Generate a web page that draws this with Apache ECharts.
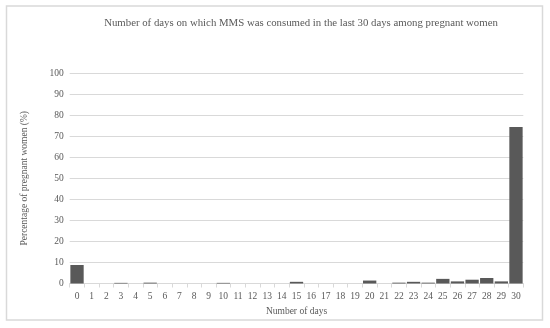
<!DOCTYPE html>
<html><head><meta charset="utf-8">
<script src="https://cdn.jsdelivr.net/npm/echarts@6/dist/echarts.min.js"></script>
<style>html,body{margin:0;padding:0;background:#fff}#c{width:550px;height:328px}</style>
</head><body><div id="c"></div>
<script>
const days = ['0','1','2','3','4','5','6','7','8','9','10','11','12','13','14','15','16','17','18','19','20','21','22','23','24','25','26','27','28','29','30'];
const percentages = [8.8,0,0,0.3,0,0.4,0,0,0,0,0.3,0,0,0,0,0.8,0,0,0,0,1.4,0,0.4,0.8,0.4,2.2,1.0,1.8,2.6,1.0,74.4];
const yTicks = [0,10,20,30,40,50,60,70,80,90,100];
const titleText = 'Number of days on which MMS was consumed in the last 30 days among pregnant women';
const xName = 'Number of days';
const yName = 'Percentage of pregnant women (%)';

const font = '"Liberation Serif","Times New Roman",serif';
const chart = echarts.init(document.getElementById('c'), null, {renderer:'canvas'});
chart.setOption({
  animation:false,
  backgroundColor:'#fff',
  graphic:[{type:'rect',shape:{x:6.5,y:6,width:536,height:314},style:{fill:'none',stroke:'#d9d9d9',lineWidth:1.5},silent:true}],
  title:{text:titleText,left:296,top:13,textAlign:'center',textStyle:{fontFamily:font,fontSize:10.8,fontWeight:'normal',color:'#595959'}},
  grid:{left:69.7,right:26.7,top:73,bottom:44.5},
  xAxis:{type:'category',data:days,name:xName,nameLocation:'middle',nameGap:21,
    nameTextStyle:{fontFamily:font,fontSize:9.5,color:'#595959'},
    axisLine:{lineStyle:{color:'#d9d9d9'}},
    axisTick:{show:true,length:4,lineStyle:{color:'#d9d9d9'}},
    axisLabel:{fontFamily:font,fontSize:9.5,color:'#595959',margin:8,interval:0}},
  yAxis:{type:'value',min:yTicks[0],max:yTicks[yTicks.length-1],interval:10,name:yName,nameLocation:'middle',nameGap:40,
    nameTextStyle:{fontFamily:font,fontSize:9.5,color:'#595959'},
    axisLine:{show:false},axisTick:{show:false},
    splitLine:{lineStyle:{color:'#d9d9d9'}},
    axisLabel:{fontFamily:font,fontSize:9.5,color:'#595959',margin:6}},
  series:[{type:'bar',data:percentages,barCategoryGap:'9%',
    itemStyle:{color:'#595959'}}]
});
</script></body></html>
